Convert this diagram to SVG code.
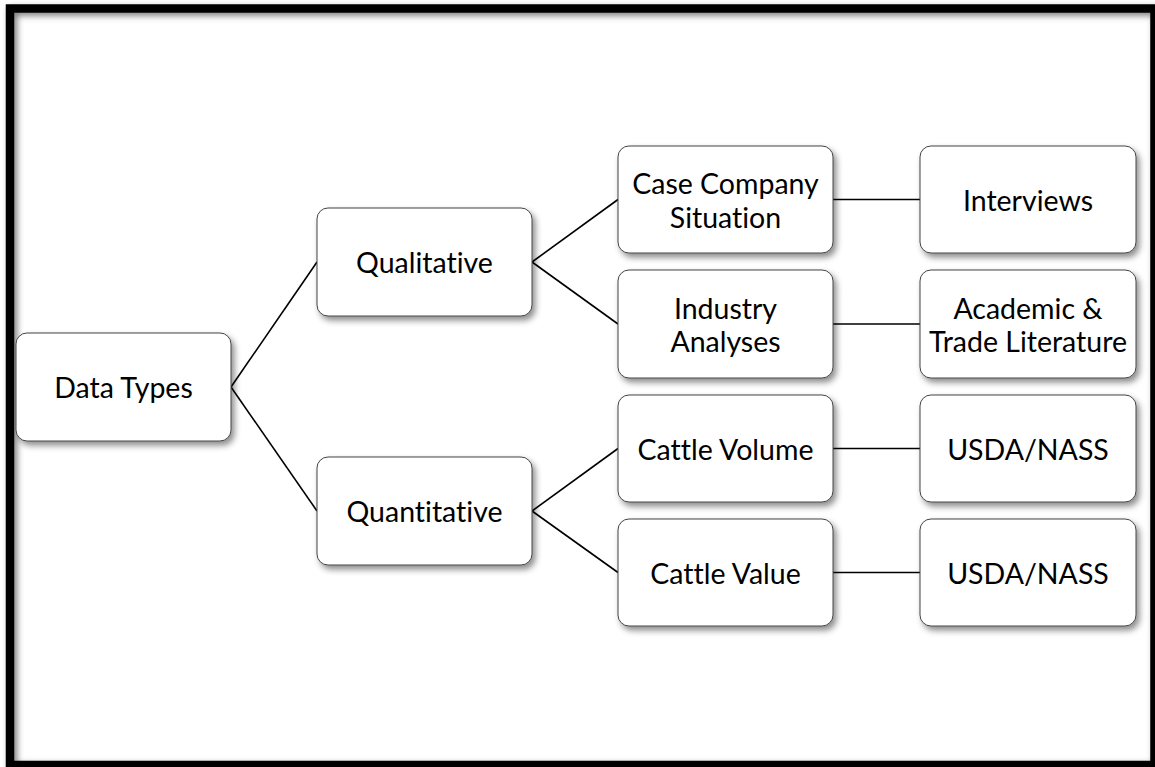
<svg xmlns="http://www.w3.org/2000/svg" width="1155" height="767" viewBox="0 0 1155 767">
  <defs>
    <filter id="shadow" x="-10%" y="-10%" width="130%" height="140%">
      <feDropShadow dx="3" dy="4" stdDeviation="3" flood-color="#000" flood-opacity="0.45"/>
    </filter>
    <filter id="frameShadow" x="-5%" y="-5%" width="110%" height="110%">
      <feDropShadow dx="3" dy="3" stdDeviation="3" flood-color="#000" flood-opacity="0.5"/>
    </filter>
  </defs>
  <style>
    .box { fill: #fff; stroke: #444; stroke-width: 1; filter: url(#shadow); }
    .lbl { font-family: Lato, "Liberation Sans", sans-serif; font-size: 28.5px; fill: #000; text-anchor: middle; dominant-baseline: central; font-variant-ligatures: none; font-feature-settings: "liga" 0; }
    .conn line { stroke: #000; stroke-width: 1.6; }
  </style>

  <!-- page background and frame -->
  <rect width="1155" height="767" fill="#fff"/>
  <rect x="10" y="8.5" width="1144.5" height="756.5" fill="none" stroke="#000" stroke-width="8.5" filter="url(#frameShadow)"/>

  <!-- connectors -->
  <g id="connectors" class="conn">
    <line x1="231" y1="387" x2="317" y2="262"/>
    <line x1="231" y1="387" x2="317" y2="511"/>
    <line x1="532" y1="262" x2="618" y2="199.5"/>
    <line x1="532" y1="262" x2="618" y2="324"/>
    <line x1="532" y1="511" x2="618" y2="448.5"/>
    <line x1="532" y1="511" x2="618" y2="572.5"/>
    <line x1="833" y1="199.5" x2="920" y2="199.5"/>
    <line x1="833" y1="324" x2="920" y2="324"/>
    <line x1="833" y1="448.5" x2="920" y2="448.5"/>
    <line x1="833" y1="572.5" x2="920" y2="572.5"/>
  </g>

  <!-- nodes -->
  <g id="data-types">
    <rect class="box" x="16" y="333" width="215" height="108" rx="11"/>
    <text class="lbl" x="123.5" y="387">Data Types</text>
  </g>
  <g id="qualitative">
    <rect class="box" x="317" y="208" width="215" height="108" rx="11"/>
    <text class="lbl" x="424.5" y="262">Qualitative</text>
  </g>
  <g id="quantitative">
    <rect class="box" x="317" y="457" width="215" height="108" rx="11"/>
    <text class="lbl" x="424.5" y="511">Quantitative</text>
  </g>
  <g id="case-company">
    <rect class="box" x="618" y="146" width="215" height="107" rx="11"/>
    <text class="lbl" x="725.5" y="183">Case Company</text>
    <text class="lbl" x="725.5" y="216.5">Situation</text>
  </g>
  <g id="industry-analyses">
    <rect class="box" x="618" y="270" width="215" height="108" rx="11"/>
    <text class="lbl" x="725.5" y="307.5">Industry</text>
    <text class="lbl" x="725.5" y="341">Analyses</text>
  </g>
  <g id="cattle-volume">
    <rect class="box" x="618" y="395" width="215" height="107" rx="11"/>
    <text class="lbl" x="725.5" y="448.5">Cattle Volume</text>
  </g>
  <g id="cattle-value">
    <rect class="box" x="618" y="519" width="215" height="107" rx="11"/>
    <text class="lbl" x="725.5" y="572.5">Cattle Value</text>
  </g>
  <g id="interviews">
    <rect class="box" x="920" y="146" width="216" height="107" rx="11"/>
    <text class="lbl" x="1028" y="199.5">Interviews</text>
  </g>
  <g id="literature">
    <rect class="box" x="920" y="270" width="216" height="108" rx="11"/>
    <text class="lbl" x="1028" y="307.5">Academic &amp;</text>
    <text class="lbl" x="1028" y="341">Trade Literature</text>
  </g>
  <g id="usda-volume">
    <rect class="box" x="920" y="395" width="216" height="107" rx="11"/>
    <text class="lbl" x="1028" y="448.5">USDA/NASS</text>
  </g>
  <g id="usda-value">
    <rect class="box" x="920" y="519" width="216" height="107" rx="11"/>
    <text class="lbl" x="1028" y="572.5">USDA/NASS</text>
  </g>
</svg>
